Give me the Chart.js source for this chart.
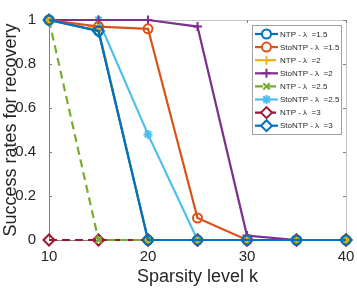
<!DOCTYPE html>
<html lang="en">
<head>
  <meta charset="UTF-8">
  <title>Success rates vs sparsity</title>
  <script src="https://cdn.jsdelivr.net/npm/chart.js"></script>
  <style>
    html, body { margin: 0; padding: 0; background: #fff; }
    #wrap { width: 357px; height: 293px; }
  </style>
</head>
<body>
  <div id="wrap"><canvas id="chart" width="357" height="293"></canvas></div>

  <script>
    // sparsity levels k
    const sparsity = [10, 15, 20, 25, 30, 35, 40];

    // success rates
    const ntp15    = [1, 0.95, 0, 0, 0, 0, 0];
    const stoNtp15 = [1, 0.97, 0.96, 0.10, 0, 0, 0];
    const ntp2     = [1, 0.96, 0, 0, 0, 0, 0];
    const stoNtp2  = [1, 1, 1, 0.97, 0.02, 0, 0];
    const ntp25    = [1, 0, 0, 0, 0, 0, 0];
    const stoNtp25 = [1, 1, 0.48, 0, 0, 0, 0];
    const ntp3     = [0, 0, 0, 0, 0, 0, 0];
    const stoNtp3  = [1, 0.95, 0, 0, 0, 0, 0];

    const seriesLabels = ['NTP - \u03bb  =1.5', 'StoNTP - \u03bb  =1.5', 'NTP - \u03bb  =2', 'StoNTP - \u03bb  =2',
                          'NTP - \u03bb  =2.5', 'StoNTP - \u03bb  =2.5', 'NTP - \u03bb  =3', 'StoNTP - \u03bb  =3'];
    const xTicks = [10, 20, 30, 40];
    const yTicks = [0, 0.2, 0.4, 0.6, 0.8, 1];

    const FONT = '"Liberation Sans", Arial, sans-serif';

    function pts(vals) {
      return vals.map((v, i) => ({ x: sparsity[i], y: v }));
    }

    function makeSet(label, vals, color, style, dash, radius) {
      return {
        label: label,
        data: pts(vals),
        borderColor: color,
        backgroundColor: color,
        borderWidth: 2.2,
        borderDash: dash || [],
        pointStyle: style,
        pointRadius: radius || 4.5,
        pointBorderWidth: 2,
        pointBorderColor: color,
        pointBackgroundColor: 'rgba(0,0,0,0)',
        tension: 0,
        fill: false,
        clip: false
      };
    }

    const datasets = [
      makeSet(seriesLabels[0], ntp15, '#0072BD', 'circle'),
      makeSet(seriesLabels[1], stoNtp15, '#D95319', 'circle'),
      makeSet(seriesLabels[2], ntp2, '#EDB120', 'cross', [8, 5]),
      makeSet(seriesLabels[3], stoNtp2, '#7E2F8E', 'cross'),
      makeSet(seriesLabels[4], ntp25, '#77AC30', 'crossRot', [8, 5]),
      makeSet(seriesLabels[5], stoNtp25, '#4DBEEE', 'star'),
      makeSet(seriesLabels[6], ntp3, '#A2142F', 'rectRot', [8, 5], 5.5),
      makeSet(seriesLabels[7], stoNtp3, '#0072BD', 'rectRot', null, 5.5)
    ];

    // axes box with inward ticks, like MATLAB
    const boxPlugin = {
      id: 'box',
      beforeDatasetsDraw(chart) {
        const { ctx, chartArea: a, scales } = chart;
        ctx.save();
        ctx.lineWidth = 1;
        ctx.strokeStyle = '#c4c4c4';
        ctx.beginPath();
        ctx.moveTo(a.left, a.top + 0.5);
        ctx.lineTo(a.right + 0.5, a.top + 0.5);
        ctx.lineTo(a.right + 0.5, a.bottom);
        ctx.stroke();
        ctx.strokeStyle = '#808080';
        ctx.beginPath();
        ctx.moveTo(a.left + 0.5, a.top);
        ctx.lineTo(a.left + 0.5, a.bottom + 0.5);
        ctx.lineTo(a.right, a.bottom + 0.5);
        ctx.stroke();
        const t = 3;
        ctx.beginPath();
        xTicks.forEach(v => {
          const x = Math.round(scales.x.getPixelForValue(v)) + 0.5;
          ctx.moveTo(x, a.bottom); ctx.lineTo(x, a.bottom - t);
          ctx.moveTo(x, a.top); ctx.lineTo(x, a.top + t);
        });
        yTicks.forEach(v => {
          const y = Math.round(scales.y.getPixelForValue(v)) + 0.5;
          ctx.moveTo(a.left, y); ctx.lineTo(a.left + t, y);
          ctx.moveTo(a.right, y); ctx.lineTo(a.right - t, y);
        });
        ctx.stroke();
        ctx.restore();
      }
    };

    // legend box in the upper right corner
    const legendPlugin = {
      id: 'boxLegend',
      afterDatasetsDraw(chart) {
        const ctx = chart.ctx;
        const left = 252.5, top = 25.5, right = 341.5, bottom = 134.5;
        ctx.save();
        ctx.fillStyle = '#fff';
        ctx.fillRect(left, top, right - left, bottom - top);
        ctx.strokeStyle = '#a0a0a0';
        ctx.lineWidth = 1;
        ctx.strokeRect(left, top, right - left, bottom - top);
        ctx.font = '8px ' + FONT;
        ctx.textBaseline = 'middle';
        chart.data.datasets.forEach((ds, i) => {
          const y = 34 + i * 13.1;
          ctx.strokeStyle = ds.borderColor;
          ctx.lineWidth = ds.borderWidth;
          ctx.setLineDash(ds.borderDash);
          ctx.beginPath();
          ctx.moveTo(255, y);
          ctx.lineTo(278, y);
          ctx.stroke();
          ctx.setLineDash([]);
          ctx.lineWidth = ds.pointBorderWidth;
          ctx.fillStyle = '#fff';
          Chart.helpers.drawPoint(ctx, {
            pointStyle: ds.pointStyle,
            radius: ds.pointRadius,
            borderWidth: ds.pointBorderWidth,
            rotation: 0
          }, 266.5, y);
          ctx.fillStyle = '#262626';
          ctx.fillText(ds.label, 280, y + 0.5);
        });
        ctx.restore();
      }
    };

    const ctx = document.getElementById('chart').getContext('2d');
    new Chart(ctx, {
      type: 'line',
      data: { datasets: datasets },
      options: {
        responsive: false,
        animation: false,
        layout: { padding: { top: 20, right: 11, left: 0, bottom: 5 } },
        plugins: { legend: { display: false }, tooltip: { enabled: false } },
        scales: {
          x: {
            type: 'linear',
            min: 10, max: 40,
            afterBuildTicks: s => { s.ticks = xTicks.map(v => ({ value: v })); },
            afterFit: s => { s.height = 48; },
            grid: { display: false },
            border: { display: false },
            ticks: { color: '#262626', font: { family: FONT, size: 15 }, padding: 0, maxRotation: 0 },
            title: { display: true, text: 'Sparsity level k', color: '#262626',
                     font: { family: FONT, size: 18 }, padding: { top: 0, bottom: 0 } }
          },
          y: {
            min: 0, max: 1,
            afterBuildTicks: s => { s.ticks = yTicks.map(v => ({ value: v })); },
            afterFit: s => { s.width = 49; },
            grid: { display: false },
            border: { display: false },
            ticks: { color: '#262626', font: { family: FONT, size: 15 }, padding: 5,
                     callback: v => String(v) },
            title: { display: true, text: 'Success rates for recovery', color: '#262626',
                     font: { family: FONT, size: 18 }, padding: { top: 0, bottom: 0 } }
          }
        }
      },
      plugins: [boxPlugin, legendPlugin]
    });
  </script>
</body>
</html>
